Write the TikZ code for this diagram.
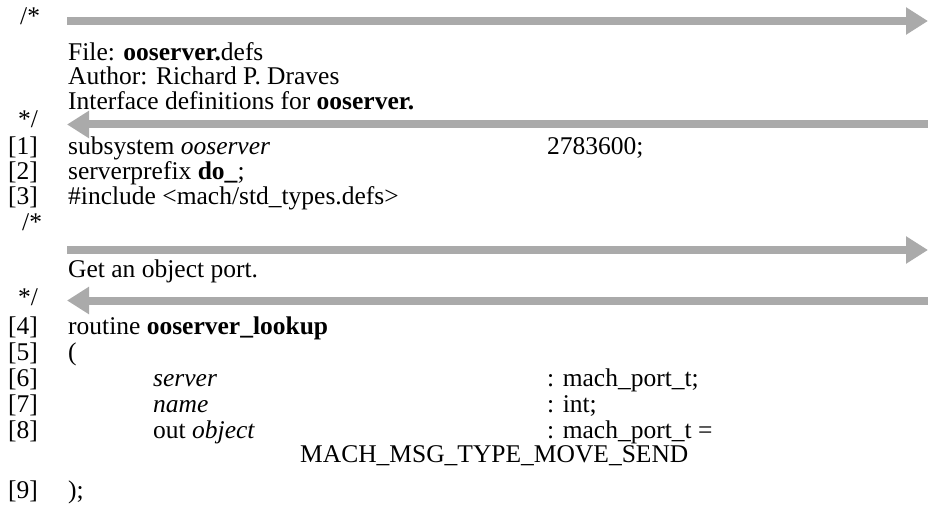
\documentclass[tikz,border=0pt]{standalone}
\usepackage{fontspec}
\setmainfont{Liberation Serif}
\usetikzlibrary{arrows.meta}
\definecolor{bargray}{RGB}{170,170,170}

\begin{document}
\begin{tikzpicture}[x=1pt,y=-1pt,
    code/.style={anchor=base west, inner sep=0pt, font=\fontsize{25.5}{30}\selectfont},
    bar/.style={draw=bargray, line width=8pt,
      >={Triangle[length=22pt,width=26pt,fill=bargray]}}]
    \useasboundingbox (0,0) rectangle (928,529);
    % comment header
    \node[code] (o1) at (20,25) {/*};
    \node[code] (f1) at (68,61) {File: \textbf{ooserver.}defs};
    \node[code] (f2) at (68,85) {Author: Richard P. Draves};
    \node[code] (f3) at (68,110) {Interface definitions for \textbf{ooserver.}};
    \node[code] (c1) at (18,128) {*/};
    \coordinate (b1a) at (67,21);  \coordinate (b1b) at (928,21);
    \coordinate (b2a) at (67,124.5); \coordinate (b2b) at (928,124.5);
    \draw[bar, ->] (b1a) -- (b1b);
    \draw[bar, <-] (b2a) -- (b2b);
    % numbered lines
    \node[code] (l1) at (8,155) {[1]};
    \node[code] (t1) at (68,155) {subsystem \textit{ooserver}};
    \node[code] (v1) at (547,155) {2783600;};
    \node[code] (l2) at (8,180) {[2]};
    \node[code] (t2) at (68,180) {serverprefix \textbf{do\_};};
    \node[code] (l3) at (8,205) {[3]};
    \node[code] (t3) at (68,205) {\#include <mach/std\_types.defs>};
    % second comment
    \node[code] (o2) at (22,230) {/*};
    \node[code] (g1) at (68,277) {Get an object port.};
    \node[code] (c2) at (18,305) {*/};
    \coordinate (b3a) at (67,250); \coordinate (b3b) at (928,250);
    \coordinate (b4a) at (67,300.5); \coordinate (b4b) at (928,300.5);
    \draw[bar, ->] (b3a) -- (b3b);
    \draw[bar, <-] (b4a) -- (b4b);
    % routine
    \node[code] (l4) at (8,334) {[4]};
    \node[code] (t4) at (68,334) {routine \textbf{ooserver\_lookup}};
    \node[code] (l5) at (8,360) {[5]};
    \node[code] (t5) at (68,360) {(};
    \node[code] (l6) at (8,386) {[6]};
    \node[code] (t6) at (153,386) {\textit{server}};
    \node[code] (v6) at (547,386) {: mach\_port\_t;};
    \node[code] (l7) at (8,412) {[7]};
    \node[code] (t7) at (153,412) {\textit{name}};
    \node[code] (v7) at (547,412) {: int;};
    \node[code] (l8) at (8,438) {[8]};
    \node[code] (t8) at (153,438) {out \textit{object}};
    \node[code] (v8) at (547,438) {: mach\_port\_t =};
    \node[code] (m8) at (300,462) {MACH\_MSG\_TYPE\_MOVE\_SEND};
    \node[code] (l9) at (8,498) {[9]};
    \node[code] (t9) at (68,498) {);};
\end{tikzpicture}
\end{document}
